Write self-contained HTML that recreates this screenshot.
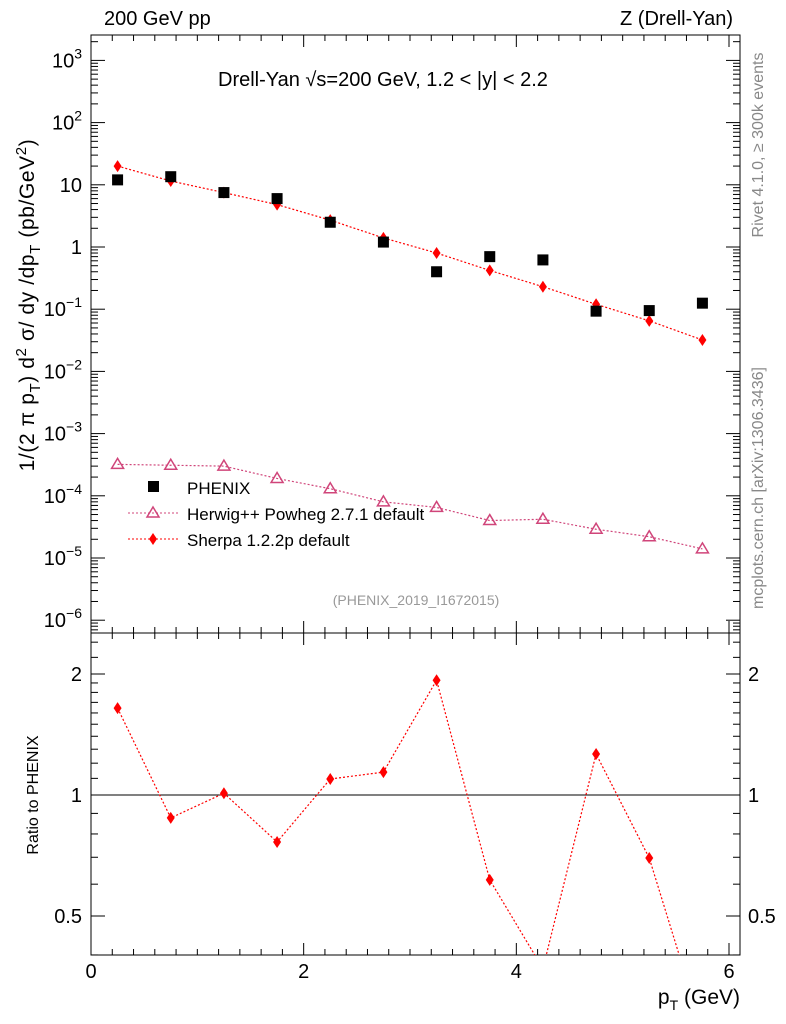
<!DOCTYPE html>
<html><head><meta charset="utf-8"><style>
body{margin:0;background:#fff}
svg{display:block;font-family:"Liberation Sans",sans-serif}
</style></head><body>
<svg id="c" width="786" height="1024" viewBox="0 0 786 1024" xmlns="http://www.w3.org/2000/svg"></svg>
<script>
const xVals=[0.25,0.75,1.25,1.75,2.25,2.75,3.25,3.75,4.25,4.75,5.25,5.75];
const phenix=[12,13.5,7.5,6,2.5,1.2,0.4,0.7,0.62,0.093,0.095,0.125];
const sherpa=[20,11.5,7.5,4.8,2.7,1.4,0.8,0.42,0.23,0.12,0.065,0.032];
const herwig=[3.2e-4,3.1e-4,3.0e-4,1.9e-4,1.3e-4,8e-5,6.5e-5,4e-5,4.2e-5,2.9e-5,2.2e-5,1.4e-5];
const ratio=[1.645,0.877,1.01,0.764,1.096,1.14,1.93,0.615,0.37,1.265,0.697,0.26];
const xTicks=[0,2,4,6];
const yExp=[3,2,1,0,-1,-2,-3,-4,-5,-6];
const rTicks=[0.5,1,2];

const svg=document.getElementById('c');
const NS='http://www.w3.org/2000/svg';
function el(t,a,txt){const e=document.createElementNS(NS,t);for(const k in a)e.setAttribute(k,a[k]);if(txt!==undefined)e.textContent=txt;svg.appendChild(e);return e;}
const L=91,R=740,T=35,M=633,B=955;
const X=v=>L+v*(729-91)/6;
const Y=v=>247-Math.log10(v)*62.2;
const YR=v=>795-Math.log2(v)*121;

const defs=el('defs',{});
const cp=document.createElementNS(NS,'clipPath');cp.setAttribute('id','cr');
const cr=document.createElementNS(NS,'rect');cr.setAttribute('x',L);cr.setAttribute('y',M);cr.setAttribute('width',R-L);cr.setAttribute('height',B-M);
cp.appendChild(cr);defs.appendChild(cp);

let f=el('rect',{x:L,y:T,width:R-L,height:M-T,fill:'none',stroke:'#000','stroke-width':1});

f=el('rect',{x:L,y:M,width:R-L,height:B-M,fill:'none',stroke:'#000','stroke-width':1});


for(let v=0;v<=6.1;v+=0.2){const x=X(v);const maj=Math.abs(v-Math.round(v/2)*2)<1e-6;const h=maj?12:6;
 el('line',{x1:x,x2:x,y1:M,y2:M-h,stroke:'#000'});el('line',{x1:x,x2:x,y1:T,y2:T+h,stroke:'#000'});
 el('line',{x1:x,x2:x,y1:B,y2:B-h,stroke:'#000'});el('line',{x1:x,x2:x,y1:M,y2:M+h,stroke:'#000'});}
xTicks.forEach(v=>{const t=el('text',{x:X(v),y:978,'font-size':20,'text-anchor':'middle'},String(v));
 });
let t=el('text',{x:740,y:1004,'font-size':21,'text-anchor':'end'});t.innerHTML='p<tspan font-size="14" dy="6">T</tspan><tspan dy="-6"> (GeV)</tspan>';


for(let e=-7;e<=3;e++){for(let m=1;m<10;m++){const v=m*Math.pow(10,e);const y=Y(v);if(y<T||y>M)continue;const h=m==1?14:7;
 el('line',{x1:L,x2:L+h,y1:y,y2:y,stroke:'#000'});el('line',{x1:R,x2:R-h,y1:y,y2:y,stroke:'#000'});}}
yExp.forEach(e=>{let s;const y=Y(Math.pow(10,e))+7;
 if(e==0)s='1';else if(e==1)s='10';
 t=el('text',{x:82,y:y,'font-size':20,'text-anchor':'end'});
 if(s)t.textContent=s;else t.innerHTML='10<tspan font-size="14" dy="-9">'+(e<0?'\u2212'+(-e):e)+'</tspan>';
 });
t=el('text',{transform:'translate(34,305) rotate(-90)','font-size':21,'text-anchor':'middle','letter-spacing':'0.6'});
t.innerHTML='1/(2 \u03c0 p<tspan font-size="15" dy="6">T</tspan><tspan dy="-6">) d</tspan><tspan font-size="15" dy="-8">2</tspan><tspan dy="8"> \u03c3/ dy /dp</tspan><tspan font-size="15" dy="6">T</tspan><tspan dy="-6"> (pb/GeV</tspan><tspan font-size="15" dy="-8">2</tspan><tspan dy="8">)</tspan>';


[0.4,0.5,0.6,0.7,0.8,0.9,1,1.1,1.2,1.3,1.4,1.5,1.6,1.7,1.8,1.9,2,2.2,2.4].forEach(v=>{const y=YR(v);if(y<M||y>B)return;const h=(v==0.5||v==1||v==2)?14:7;
 el('line',{x1:L,x2:L+h,y1:y,y2:y,stroke:'#000'});el('line',{x1:R,x2:R-h,y1:y,y2:y,stroke:'#000'});});
rTicks.forEach(v=>{const s=String(v);
 t=el('text',{x:82,y:YR(v)+7,'font-size':20,'text-anchor':'end'},s);
 t=el('text',{x:748,y:YR(v)+7,'font-size':20,fill:'#000'},s);});
t=el('text',{transform:'translate(38,795) rotate(-90)','font-size':16,'text-anchor':'middle'},'Ratio to PHENIX');

el('line',{x1:L,x2:R,y1:YR(1),y2:YR(1),stroke:'#000'});

t=el('text',{x:104,y:25,'font-size':20},'200 GeV pp');
t=el('text',{x:733,y:25,'font-size':20,'text-anchor':'end'},'Z (Drell-Yan)');
t=el('text',{x:218,y:86,'font-size':20},'Drell-Yan \u221As=200 GeV,  1.2 < |y| < 2.2');
t=el('text',{x:416,y:605,'font-size':14,fill:'#999','text-anchor':'middle'},'(PHENIX_2019_I1672015)');
t=el('text',{transform:'translate(763,145) rotate(-90)','font-size':16,fill:'#888','text-anchor':'middle'},'Rivet 4.1.0, \u2265 300k events');
t=el('text',{transform:'translate(763,488) rotate(-90)','font-size':16,fill:'#888','text-anchor':'middle'},'mcplots.cern.ch [arXiv:1306.3436]');

function diamond(x,y,c,name){const p=el('polygon',{points:`${x},${y-6} ${x+4},${y} ${x},${y+6} ${x-4},${y}`,fill:c});}
function tri(x,y,name){const p=el('polygon',{points:`${x},${y-6} ${x+6},${y+4} ${x-6},${y+4}`,fill:'none',stroke:'#d0457a','stroke-width':1.5});}

let l=el('polyline',{points:xVals.map((v,i)=>X(v)+','+Y(herwig[i])).join(' '),fill:'none',stroke:'#d0457a','stroke-dasharray':'2,2','stroke-width':1.2});

xVals.forEach((v,i)=>tri(X(v),Y(herwig[i]),'herwig-point'));
l=el('polyline',{points:xVals.map((v,i)=>X(v)+','+Y(sherpa[i])).join(' '),fill:'none',stroke:'#f00','stroke-dasharray':'2,2','stroke-width':1.2});

xVals.forEach((v,i)=>diamond(X(v),Y(sherpa[i]),'#f00','sherpa-point'));
xVals.forEach((v,i)=>{const r=el('rect',{x:X(v)-5.5,y:Y(phenix[i])-5.5,width:11,height:11,fill:'#000'});});

const g=el('g',{'clip-path':'url(#cr)'});
l=document.createElementNS(NS,'polyline');
l.setAttribute('points',xVals.map((v,i)=>X(v)+','+YR(ratio[i])).join(' '));
l.setAttribute('fill','none');l.setAttribute('stroke','#f00');l.setAttribute('stroke-dasharray','2,2');l.setAttribute('stroke-width','1.2');


g.appendChild(l);
xVals.forEach((v,i)=>{const y=YR(ratio[i]);if(y<M||y>B)return;diamond(X(v),y,'#f00','ratio-sherpa-point');});

const lg=[['PHENIX',487],['Herwig++ Powheg 2.7.1 default',513],['Sherpa 1.2.2p default',539]];
let r=el('rect',{x:148,y:481,width:11,height:11,fill:'#000'});
l=el('line',{x1:128,x2:178,y1:513,y2:513,stroke:'#d0457a','stroke-dasharray':'2,2'});
tri(153,513,'legend-herwig-marker');
l=el('line',{x1:128,x2:178,y1:539,y2:539,stroke:'#f00','stroke-dasharray':'2,2'});
diamond(153,539,'#f00','legend-sherpa-marker');
lg.forEach(([s,y])=>{t=el('text',{x:187,y:y+7,'font-size':17},s);});
</script>
</body></html>
